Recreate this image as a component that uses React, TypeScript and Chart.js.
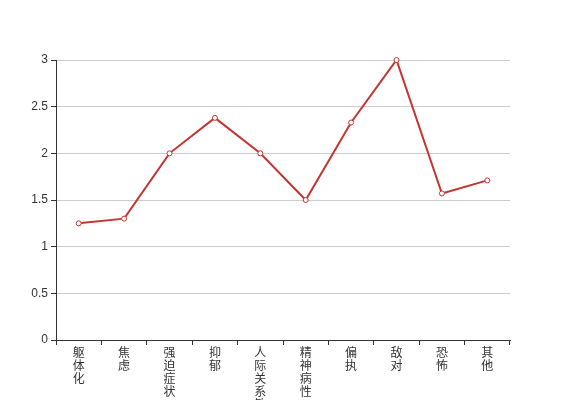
import React, { useEffect, useRef } from "react";
import { Chart, registerables } from "chart.js";

Chart.register(...registerables);

const categories = ["躯体化", "焦虑", "强迫症状", "抑郁", "人际关系敏感", "精神病性", "偏执", "敌对", "恐怖", "其他"];
const values = [1.25, 1.3, 2.0, 2.38, 2.0, 1.5, 2.33, 3.0, 1.57, 1.71];
const yMin = 0;
const yMax = 3;
const yStep = 0.5;

const FONT = "'Liberation Sans', 'Noto Sans CJK SC', sans-serif";

export default function App() {
  const ref = useRef<HTMLCanvasElement | null>(null);

  useEffect(() => {
    document.body.style.margin = "0";
    const canvas = ref.current;
    if (!canvas) return;
    const chart = new Chart(canvas, {
      type: "line",
      data: {
        labels: categories.map((c) => c.split("")),
        datasets: [
          {
            data: values,
            borderColor: "#c23531",
            backgroundColor: "#ffffff",
            borderWidth: 2,
            pointRadius: 2.5,
            pointBorderWidth: 1,
            pointBackgroundColor: "#ffffff",
            pointBorderColor: "#c23531",
            tension: 0,
            clip: false,
          },
        ],
      },
      options: {
        animation: false,
        responsive: false,
        layout: { padding: { top: 60, right: 57, left: 0, bottom: 0 } },
        plugins: { legend: { display: false }, tooltip: { enabled: false } },
        scales: {
          x: {
            type: "category",
            offset: true,
            grid: {
              offset: true,
              drawOnChartArea: false,
              tickLength: 5,
              tickColor: "#333",
            },
            border: { display: true, color: "#333", width: 1 },
            ticks: {
              color: "#333",
              font: { family: FONT, size: 12, lineHeight: "13px" },
              padding: 2,
              maxRotation: 0,
              minRotation: 0,
              autoSkip: false,
            },
            afterFit: (scale: any) => {
              scale.height = 60;
            },
          },
          y: {
            min: yMin,
            max: yMax,
            grid: {
              color: "#ccc",
              tickLength: 5,
              tickColor: "#333",
            },
            border: { display: true, color: "#333", width: 1 },
            ticks: {
              stepSize: yStep,
              color: "#333",
              font: { family: FONT, size: 12 },
              padding: 3,
              callback: (v: any) => String(Number(v)),
            },
            afterFit: (scale: any) => {
              scale.width = 56;
            },
          },
        },
      },
    });
    return () => chart.destroy();
  }, []);

  return (
    <div style={{ position: "fixed", left: 0, top: 0, width: 567, height: 400, background: "#fff" }}>
      <canvas ref={ref} width={567} height={400} style={{ width: 567, height: 400, display: "block" }} />
    </div>
  );
}
